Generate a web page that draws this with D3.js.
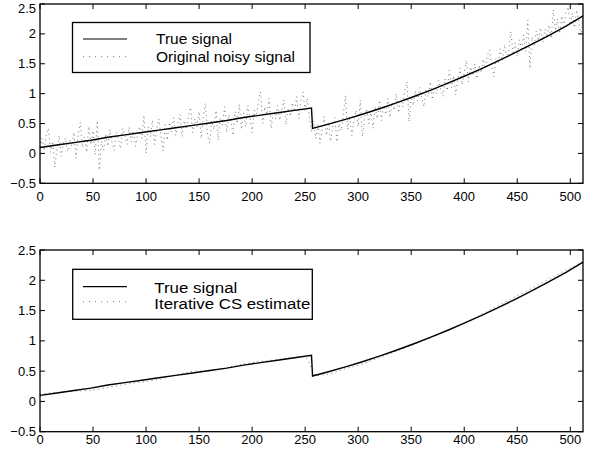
<!DOCTYPE html>
<html lang="en">
<head>
  <meta charset="UTF-8">
  <script src="https://d3js.org/d3.v7.min.js"></script>
  <title>True signal vs noisy signal and Iterative CS estimate</title>
  <style>
    body { margin: 0; background: #fff; }
    svg { display: block; }
    text { font-family: "Liberation Sans", Arial, Helvetica, sans-serif; fill: #000; }
    .frame { fill: none; stroke: #000; stroke-width: 1.3px; }
    .tick { stroke: #000; stroke-width: 1px; }
  </style>
</head>
<body>
  <svg></svg>
  <script>
    const WIDTH = 597
    const HEIGHT = 455

    // x ticks / y ticks
    const xTicks = [0, 50, 100, 150, 200, 250, 300, 350, 400, 450, 500]
    const yTicks = [-0.5, 0, 0.5, 1, 1.5, 2, 2.5]

    // true signal, read at a few sample points (jump at n=256)
    const trueIdx = [0, 16, 32, 48, 64, 80, 96, 112, 128, 144, 160, 176, 192, 208, 224, 240, 256,
      257, 272, 288, 304, 320, 336, 352, 368, 384, 400, 416, 432, 448, 464, 480, 496, 512]
    const trueVal = [0.10, 0.14, 0.18, 0.22, 0.27, 0.31, 0.35, 0.39, 0.43, 0.47, 0.51, 0.55, 0.60, 0.64, 0.68, 0.72, 0.76,
      0.42, 0.49, 0.57, 0.655, 0.748, 0.845, 0.948, 1.056, 1.171, 1.291, 1.416, 1.548, 1.685, 1.828, 1.976, 2.13, 2.30]

    // noisy signal, every 2nd sample (n = 0, 2, ..., 512)
    const noisyIdx = d3.range(0, 513, 2)
    const noisyVal = [
      0.10, 0.25, 0.05, 0.33, 0.42, 0.02, 0.20, -0.23, 0.08, 0.30, -0.05, 0.18, 0.26, 0.03, 0.22, 0.12,
      0.35, -0.08, 0.30, 0.52, 0.10, 0.28, 0.02, 0.45, 0.15, 0.38, -0.02, 0.55, -0.28, 0.20, 0.05, 0.33,
      0.12, 0.40, 0.18, 0.05, 0.35, 0.22, 0.08, 0.42, 0.30, 0.15, 0.44, 0.20, 0.38, 0.12, 0.30, 0.45,
      0.25, 0.64, 0.00, 0.45, 0.28, 0.55, 0.15, 0.40, 0.58, 0.30, 0.04, 0.48, 0.22, 0.52, 0.35, 0.60,
      0.30, 0.50, 0.65, 0.28, 0.55, 0.40, 0.62, 0.77, 0.35, 0.58, 0.45, 0.70, 0.25, 0.62, 0.84, 0.30,
      0.17, 0.55, 0.40, 0.72, 0.22, 0.60, 0.48, 0.78, 0.35, 0.65, 0.55, 0.30, 0.70, 0.50, 0.82, 0.40,
      0.68, 0.45, 0.80, 0.58, 0.35, 0.72, 0.62, 0.88, 1.03, 0.50, 0.78, 0.65, 0.92, 0.42, 0.70, 0.58,
      0.80, 0.55, 0.72, 0.90, 0.48, 0.76, 0.62, 0.85, 0.70, 0.95, 0.58, 0.88, 1.03, 0.72, 0.92, 0.60,
      0.36, 0.55, 0.25, 0.48, 0.17, 0.40, 0.62, 0.30, 0.52, 0.20, 0.45, 0.60, 0.19, 0.50, 0.38, 0.65,
      0.97, 0.40, 0.62, 0.30, 0.55, 0.72, 0.45, 0.89, 0.28, 0.60, 0.75, 0.50, 0.68, 0.42, 0.78, 0.58,
      0.89, 0.55, 0.80, 0.65, 0.92, 0.60, 0.85, 0.72, 1.00, 0.68, 0.90, 0.78, 1.05, 1.20, 0.53, 0.95,
      0.80, 1.05, 0.88, 1.10, 0.92, 0.78, 1.08, 0.95, 1.20, 0.90, 1.12, 1.00, 1.22, 1.05, 0.95, 1.25,
      1.05, 1.39, 1.10, 1.30, 0.98, 1.25, 1.43, 1.15, 1.35, 1.56, 1.20, 1.45, 1.30, 1.50, 1.25, 1.48,
      1.35, 1.58, 1.42, 1.65, 1.73, 1.45, 1.28, 1.60, 1.50, 1.75, 1.55, 1.82, 1.60, 1.70, 2.04, 1.65,
      1.85, 1.62, 1.90, 1.75, 1.98, 1.70, 2.23, 1.42, 1.95, 1.80, 2.05, 1.88, 2.10, 1.85, 2.08, 1.95,
      2.15, 1.92, 2.40, 2.05, 2.25, 2.00, 2.30, 2.12, 2.38, 2.45, 2.15, 2.35, 2.10, 2.40, 2.22, 1.98,
      2.30
    ]

    // iterative CS estimate
    const estIdx = [0, 16, 32, 48, 64, 80, 96, 112, 128, 144, 160, 176, 192, 208, 224, 240, 248, 252, 256,
      260, 272, 288, 304, 320, 336, 352, 368, 384, 400, 416, 432, 448, 464, 480, 496, 512]
    const estVal = [0.12, 0.15, 0.17, 0.18, 0.23, 0.28, 0.32, 0.36, 0.44, 0.50, 0.50, 0.55, 0.62, 0.66, 0.69, 0.73, 0.74, 0.70, 0.55,
      0.42, 0.45, 0.54, 0.62, 0.72, 0.83, 0.94, 1.05, 1.17, 1.29, 1.43, 1.58, 1.73, 1.87, 2.02, 2.17, 2.30]

    const panels = [
      {
        top: 4, bottom: 183.3, xLabelY: 201,
        second: noisyVal, secondIdx: noisyIdx,
        legend: { x0: 72.5, y0: 22.5, x1: 310, y1: 72.5, lineY: [39, 56.7], textX: 156, textY: [44.3, 61.7], size: 14.5,
          labels: ['True signal', 'Original noisy signal'], lengths: [76, 139] }
      },
      {
        top: 250, bottom: 431.7, xLabelY: 443.6,
        second: estVal, secondIdx: estIdx,
        legend: { x0: 72.7, y0: 269.3, x1: 312.3, y1: 319.3, lineY: [286.7, 301.7], textX: 154.3, textY: [293.3, 309.3], size: 15.5,
          labels: ['True signal', 'Iterative CS estimate'], lengths: [83, 156] }
      }
    ]

    const LEFT = 40
    const RIGHT = 583
    const TICK = 5

    const svg = d3.select('svg')
      .attr('width', WIDTH)
      .attr('height', HEIGHT)

    const x = d3.scaleLinear().domain([0, 512]).range([LEFT, RIGHT])

    panels.forEach((p, i) => {
      const y = d3.scaleLinear().domain([-0.5, 2.5]).range([p.bottom, p.top])
      const g = svg.append('g')

      g.append('clipPath').attr('id', 'clip' + i)
        .append('rect')
        .attr('x', LEFT).attr('y', p.top)
        .attr('width', RIGHT - LEFT).attr('height', p.bottom - p.top)

      const line = d3.line()
        .x((d) => x(d[0]))
        .y((d) => y(d[1]))

      // dotted series
      g.append('path')
        .attr('clip-path', 'url(#clip' + i + ')')
        .attr('d', line(p.secondIdx.map((n, k) => [n, p.second[k]])))
        .attr('fill', 'none')
        .attr('stroke', '#555')
        .attr('stroke-width', 0.8)
        .attr('stroke-dasharray', '1,3.5')

      // true signal
      g.append('path')
        .attr('clip-path', 'url(#clip' + i + ')')
        .attr('d', line(trueIdx.map((n, k) => [n, trueVal[k]])))
        .attr('fill', 'none')
        .attr('stroke', '#000')
        .attr('stroke-width', 1.4)

      // ticks on all four sides, pointing inward
      xTicks.forEach((t) => {
        g.append('line').attr('class', 'tick')
          .attr('x1', x(t)).attr('x2', x(t))
          .attr('y1', p.bottom).attr('y2', p.bottom - TICK)
        g.append('line').attr('class', 'tick')
          .attr('x1', x(t)).attr('x2', x(t))
          .attr('y1', p.top).attr('y2', p.top + TICK)
        g.append('text')
          .attr('x', x(t))
          .attr('y', p.xLabelY)
          .attr('text-anchor', 'middle')
          .attr('font-size', 13)
          .text(t)
      })

      yTicks.forEach((t) => {
        g.append('line').attr('class', 'tick')
          .attr('x1', LEFT).attr('x2', LEFT + TICK)
          .attr('y1', y(t)).attr('y2', y(t))
        g.append('line').attr('class', 'tick')
          .attr('x1', RIGHT).attr('x2', RIGHT - TICK)
          .attr('y1', y(t)).attr('y2', y(t))
        // keep the top label inside the window
        const ty = Math.max(y(t) + 4.6, 12.5)
        g.append('text')
          .attr('x', 36)
          .attr('y', ty)
          .attr('text-anchor', 'end')
          .attr('font-size', 13)
          .text(t < 0 ? '\u2212' + Math.abs(t) : t)
      })

      g.append('rect').attr('class', 'frame')
        .attr('x', LEFT).attr('y', p.top)
        .attr('width', RIGHT - LEFT).attr('height', p.bottom - p.top)

      // legend
      const L = p.legend
      g.append('rect')
        .attr('x', L.x0).attr('y', L.y0)
        .attr('width', L.x1 - L.x0).attr('height', L.y1 - L.y0)
        .attr('fill', '#fff')
        .attr('stroke', '#000')
        .attr('stroke-width', 1.3)

      g.append('line')
        .attr('x1', 83).attr('x2', 127)
        .attr('y1', L.lineY[0]).attr('y2', L.lineY[0])
        .attr('stroke', '#000').attr('stroke-width', 1.2)
      g.append('line')
        .attr('x1', 83).attr('x2', 127)
        .attr('y1', L.lineY[1]).attr('y2', L.lineY[1])
        .attr('stroke', '#555').attr('stroke-width', 0.8)
        .attr('stroke-dasharray', '1,5')

      L.labels.forEach((s, k) => {
        g.append('text')
          .attr('x', L.textX)
          .attr('y', L.textY[k])
          .attr('font-size', L.size)
          .attr('textLength', L.lengths[k])
          .attr('lengthAdjust', 'spacingAndGlyphs')
          .text(s)
      })
    })
  </script>
</body>
</html>
